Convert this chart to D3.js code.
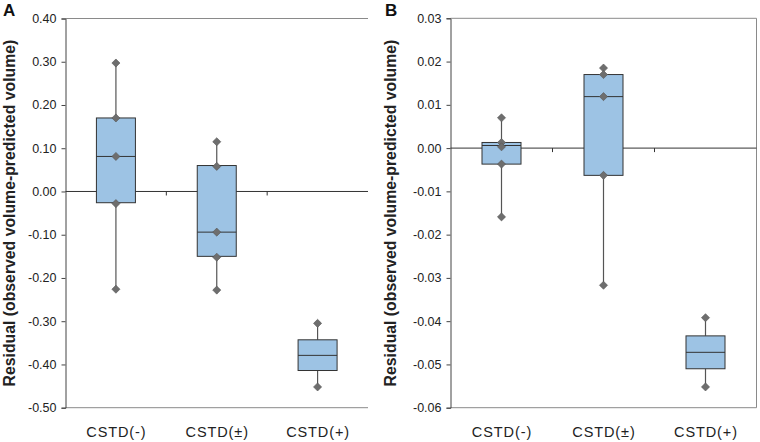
<!DOCTYPE html>
<html><head><meta charset="utf-8">
<script src="https://cdn.jsdelivr.net/npm/d3@7"></script>
<style>body{margin:0;background:#fff;}svg{display:block;font-family:"Liberation Sans",Arial,sans-serif;}</style>
</head><body>
<svg id="c" width="760" height="442"></svg>
<script>
const categories = ["CSTD(-)", "CSTD(±)", "CSTD(+)"];

// Panel A: box stats [min, q1, median, q3, max] and shown points
const statsA = [
  [-0.226, -0.026, 0.081, 0.170, 0.297],
  [-0.228, -0.150, -0.094, 0.060, 0.115],
  [-0.452, -0.414, -0.379, -0.343, -0.305]
];
const pointsA = [
  [0.297, 0.170, 0.081, -0.028, -0.226],
  [0.115, 0.058, -0.094, -0.152, -0.228],
  [-0.305, -0.452]
];
const ticksA = [0.40, 0.30, 0.20, 0.10, 0.00, -0.10, -0.20, -0.30, -0.40, -0.50];

// Panel B
const statsB = [
  [-0.0159, -0.0037, 0.0006, 0.0013, 0.0070],
  [-0.0317, -0.0063, 0.0119, 0.0170, 0.0185],
  [-0.0552, -0.0510, -0.0472, -0.0434, -0.0392]
];
const pointsB = [
  [0.0070, 0.0013, 0.0003, -0.0037, -0.0159],
  [0.0185, 0.0170, 0.0119, -0.0063, -0.0317],
  [-0.0392, -0.0552]
];
const ticksB = [0.03, 0.02, 0.01, 0.00, -0.01, -0.02, -0.03, -0.04, -0.05, -0.06];

const svg = d3.select("#c");

function panel(opt) {
  const {left, right, top, bottom, domain, ticks, stats, points, letter, letterX, titleX, rightBorder} = opt;
  const g = svg.append("g");
  const y = d3.scaleLinear().domain(domain).range([bottom, top]);
  const x = d3.scaleBand().domain(categories).range([left, right]);
  const bw = 39;

  g.append("line").attr("x1", left).attr("x2", right).attr("y1", y(domain[1])).attr("y2", y(domain[1]))
    .attr("stroke", "#8a8a8a").attr("stroke-width", 1);
  g.append("line").attr("x1", left).attr("x2", right).attr("y1", y(domain[0])).attr("y2", y(domain[0]))
    .attr("stroke", "#8a8a8a").attr("stroke-width", 1);
  if (rightBorder) {
    g.append("line").attr("x1", right).attr("x2", right).attr("y1", top).attr("y2", bottom)
      .attr("stroke", "#8a8a8a").attr("stroke-width", 1);
  }

  const ax = g.append("g").attr("transform", `translate(${left},0)`)
    .call(d3.axisLeft(y).tickValues(ticks).tickSize(4).tickPadding(5).tickFormat(d3.format(opt.fmt)));
  ax.select(".domain").attr("stroke", "#444");
  ax.selectAll(".tick line").attr("stroke", "#444");
  ax.selectAll("text").attr("font-size", 12.5).attr("fill", "#222")
    .attr("font-family", "Liberation Sans, Arial, sans-serif")
    .text(d => d3.format(opt.fmt)(d).replace("−", "-"));

  g.append("line").attr("x1", left).attr("x2", right).attr("y1", y(0)).attr("y2", y(0))
    .attr("stroke", "#333").attr("stroke-width", 1);
  categories.slice(1).forEach(c => {
    g.append("line").attr("x1", x(c)).attr("x2", x(c)).attr("y1", y(0)).attr("y2", y(0) + 4)
      .attr("stroke", "#333");
  });

  categories.forEach(c => {
    g.append("text").attr("x", x(c) + x.bandwidth() / 2 + 0.5).attr("y", 437)
      .attr("text-anchor", "middle").attr("font-size", 14.5).attr("letter-spacing", 0.9)
      .attr("fill", "#222").text(c);
  });

  stats.forEach((s, i) => {
    const cx = x(categories[i]) + x.bandwidth() / 2;
    g.append("line").attr("x1", cx).attr("x2", cx).attr("y1", y(s[4])).attr("y2", y(s[3]))
      .attr("stroke", "#555").attr("stroke-width", 1.2);
    g.append("line").attr("x1", cx).attr("x2", cx).attr("y1", y(s[1])).attr("y2", y(s[0]))
      .attr("stroke", "#555").attr("stroke-width", 1.2);
    g.append("rect").attr("x", cx - bw / 2).attr("width", bw)
      .attr("y", y(s[3])).attr("height", y(s[1]) - y(s[3]))
      .attr("fill", "#9dc3e4").attr("stroke", "#333").attr("stroke-width", 1);
    g.append("line").attr("x1", cx - bw / 2).attr("x2", cx + bw / 2).attr("y1", y(s[2])).attr("y2", y(s[2]))
      .attr("stroke", "#333").attr("stroke-width", 1);
    points[i].forEach(v => {
      g.append("path").attr("d", d3.symbol(d3.symbolDiamond2, 42)())
        .attr("transform", `translate(${cx},${y(v)})`)
        .attr("fill", "#6e6e6e").attr("stroke", "#555").attr("stroke-width", 0.6);
    });
  });

  g.append("text").attr("x", letterX).attr("y", 16).attr("font-size", 17).attr("font-weight", "bold")
    .attr("fill", "#111").text(letter);

  g.append("text").attr("transform", `translate(${titleX},${(top + bottom) / 2}) rotate(-90)`)
    .attr("text-anchor", "middle").attr("font-size", 15.8).attr("font-weight", "bold").attr("fill", "#222")
    .text("Residual (observed volume-predicted volume)");
}

panel({left: 65.5, right: 368, top: 18.5, bottom: 407.7, domain: [-0.50, 0.40], ticks: ticksA,
  stats: statsA, points: pointsA, letter: "A", letterX: 3, titleX: 15, fmt: ".2f", rightBorder: false});
panel({left: 450.5, right: 756.5, top: 18.3, bottom: 407.7, domain: [-0.06, 0.03], ticks: ticksB,
  stats: statsB, points: pointsB, letter: "B", letterX: 385, titleX: 395.5, fmt: ".2f", rightBorder: true});
</script>
</body></html>
